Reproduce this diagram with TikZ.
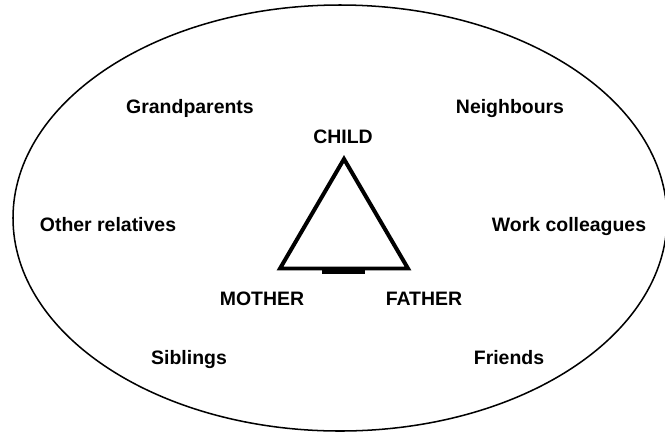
\documentclass[tikz,border=0pt]{standalone}
\usepackage{fontspec}
\setmainfont{Liberation Sans}
\begin{document}
\begin{tikzpicture}[x=0.03cm,y=-0.03cm,every node/.style={anchor=base,inner sep=0pt,font=\fontsize{16.6}{19}\selectfont\bfseries}]
	\useasboundingbox (0,0) rectangle (665,434);
	\draw[line width=1.3pt] (340,218) ellipse [x radius=327,y radius=213];
	\coordinate (top) at (344,159);
	\coordinate (left) at (280,268.5);
	\coordinate (right) at (408,268.5);
	\draw[line width=3.4pt,line join=miter] (top) -- (left) -- (right) -- cycle;
	\fill (322,270) rectangle (365,274);
	\node (child) at (343,143.5) {CHILD};
	\node (mother) at (262,305) {MOTHER};
	\node (father) at (424,305) {FATHER};
	\node (grand) at (190,113) {Grandparents};
	\node (neigh) at (510,113) {Neighbours};
	\node (rel) at (108,231) {Other relatives};
	\node (work) at (569,231) {Work colleagues};
	\node (sib) at (189,364) {Siblings};
	\node (friends) at (509,364) {Friends};
\end{tikzpicture}
\end{document}
